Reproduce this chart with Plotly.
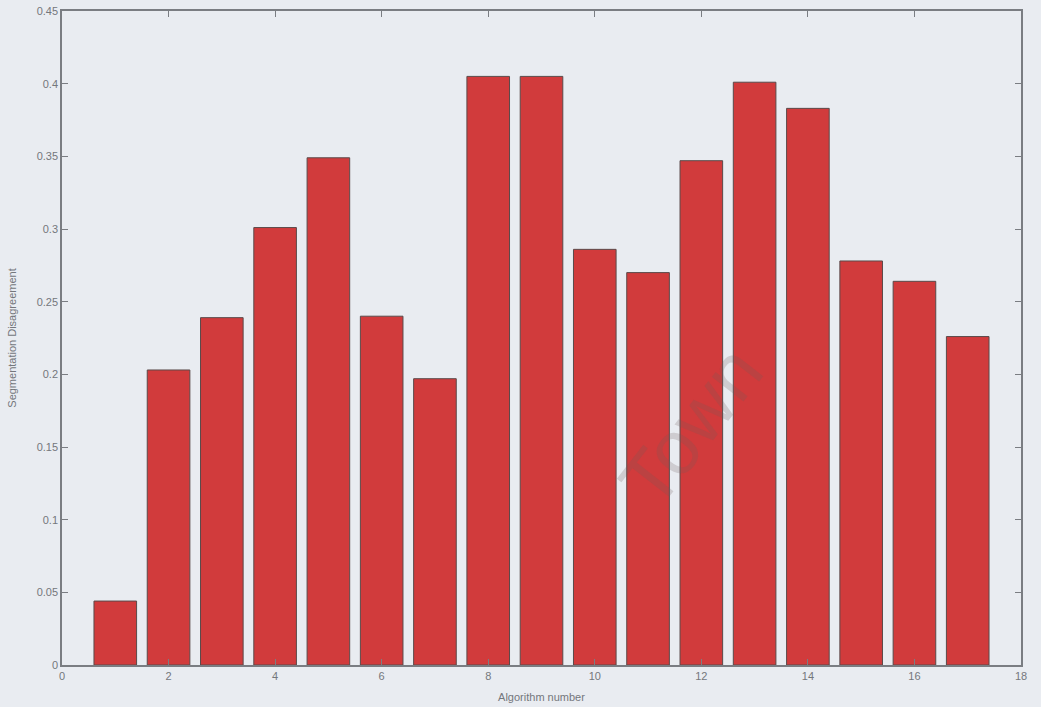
import plotly.graph_objects as go

algorithms = list(range(1, 18))
disagreement = [0.044, 0.203, 0.239, 0.301, 0.349, 0.240, 0.197, 0.405, 0.405,
                0.286, 0.270, 0.347, 0.401, 0.383, 0.278, 0.264, 0.226]
x_ticks = list(range(0, 20, 2))
y_ticks = [round(0.05 * i, 2) for i in range(10)]

bg = "#e9ecf1"
axis_col = "#7a7d82"
font_col = "#74777c"

fig = go.Figure()
fig.add_trace(go.Bar(
    x=algorithms, y=disagreement, width=0.8,
    marker=dict(color="#d13b3c", line=dict(color="#5a4a4a", width=1)),
))

axis_common = dict(
    showgrid=False, zeroline=False, showline=True, linecolor=axis_col, linewidth=1.5,
    mirror="ticks", ticks="inside", ticklen=6, tickcolor=axis_col, tickwidth=1,
    automargin=False,
    tickfont=dict(family="Liberation Sans, Arial", size=11, color=font_col),
)

fig.update_layout(
    width=1041, height=707,
    margin=dict(l=62, r=20, t=11, b=42),
    paper_bgcolor=bg, plot_bgcolor=bg,
    showlegend=False,
    xaxis=dict(range=[0, 18], tickvals=x_ticks, ticktext=[str(v) for v in x_ticks],
               title=dict(text="Algorithm number", standoff=12,
                          font=dict(family="Liberation Sans, Arial", size=11, color=font_col)),
               **axis_common),
    yaxis=dict(range=[0, 0.45], tickvals=y_ticks, ticktext=[f"{v:g}" for v in y_ticks],
               title=dict(text="Segmentation Disagreement", standoff=18,
                          font=dict(family="Liberation Sans, Arial", size=11, color=font_col)),
               **axis_common),
    annotations=[dict(text="Town", x=0.655, y=0.365, xref="paper", yref="paper",
                      showarrow=False, textangle=-52,
                      font=dict(family="Liberation Sans, Arial", size=76,
                                color="rgba(110,90,90,0.22)"))],
)

fig.write_html("out.html", config={"displayModeBar": False},
               post_script="document.body.style.margin='0';document.body.style.overflow='hidden';document.body.style.background='" + bg + "';")
